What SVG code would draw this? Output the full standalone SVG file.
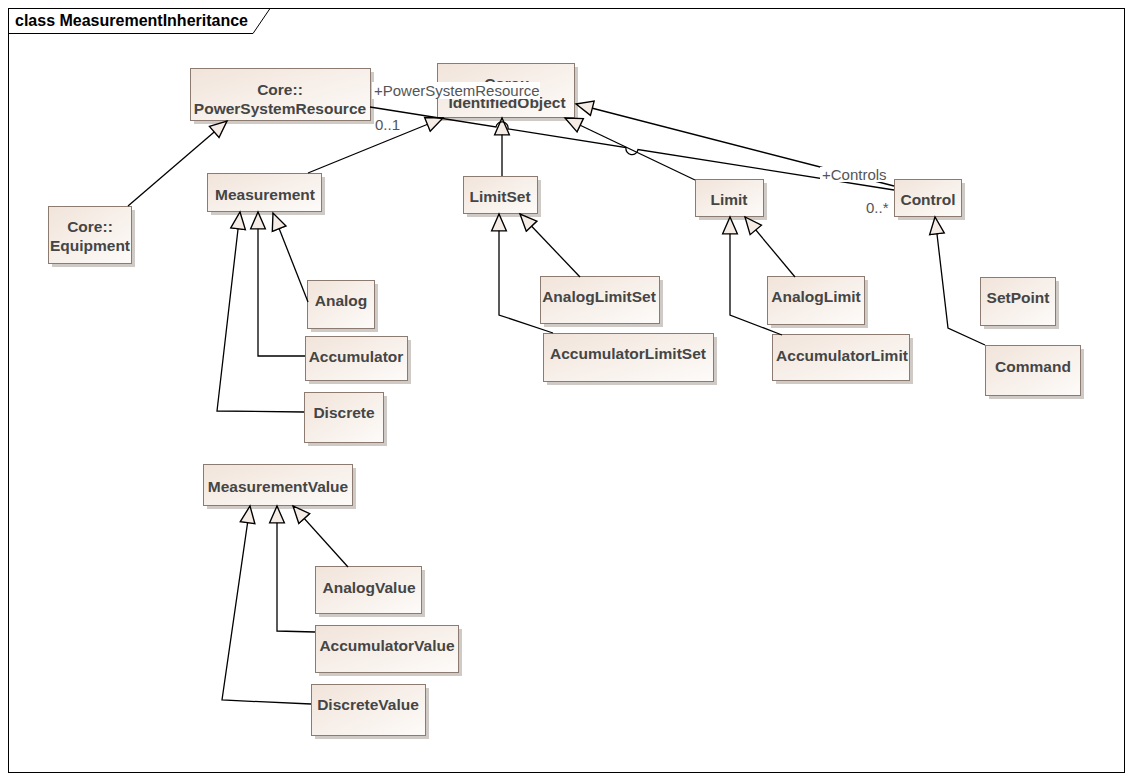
<svg xmlns="http://www.w3.org/2000/svg" width="1133" height="781" viewBox="0 0 1133 781">
<style>
.box{fill:url(#g);stroke:#8c7b70;stroke-width:1}
.sh{fill:#cfcac6}
.t{font-family:"Liberation Sans",Arial,sans-serif;font-weight:bold;font-size:15.5px;fill:#454545;text-anchor:middle}
.lbl{font-family:"Liberation Sans",Arial,sans-serif;font-size:15px;fill:#555}
.c{fill:none;stroke:#000;stroke-width:1.3}
.gen{marker-end:url(#tri)}
</style>
<defs>
<linearGradient id="g" x1="0" y1="0" x2="1" y2="1">
<stop offset="0" stop-color="#f1e4da"/>
<stop offset="1" stop-color="#fdfbf9"/>
</linearGradient>
<marker id="tri" markerUnits="userSpaceOnUse" markerWidth="20" markerHeight="20" viewBox="-1 -9 19 18" refX="16" refY="0" orient="auto">
<path d="M0,-7 L16,0 L0,7 Z" fill="#f5ece6" stroke="#000" stroke-width="1.3"/>
</marker>
</defs>
<rect width="1133" height="781" fill="#fff"/>
<g id="frame">
<rect x="8.5" y="8.5" width="1116" height="764" fill="none" stroke="#000" stroke-width="1"/>
<path d="M8.5,33.5 H253 L270,8.5" fill="none" stroke="#000" stroke-width="1"/>
<text x="15" y="26" style="font-family:'Liberation Sans',Arial,sans-serif;font-weight:bold;font-size:16px;fill:#000">class MeasurementInheritance</text>
</g>
<g id="nodes">
<g id="PowerSystemResource"><rect class="sh" x="194" y="72" width="180" height="52"/><rect class="box" x="190.5" y="68.5" width="180" height="52"/><text class="t" x="280" y="95">Core::</text><text class="t" x="280" y="114">PowerSystemResource</text></g>
<g id="IdentifiedObject"><rect class="sh" x="441" y="67" width="137" height="54"/><rect class="box" x="437.5" y="63.5" width="137" height="54"/><text class="t" x="507" y="89">Core::</text><text class="t" x="507" y="108">IdentifiedObject</text></g>
<g id="Equipment"><rect class="sh" x="52" y="210" width="83" height="57"/><rect class="box" x="48.5" y="206.5" width="83" height="57"/><text class="t" x="90" y="232">Core::</text><text class="t" x="90" y="251">Equipment</text></g>
<g id="Measurement"><rect class="sh" x="211" y="177" width="114" height="38"/><rect class="box" x="207.5" y="173.5" width="114" height="38"/><text class="t" x="265" y="200">Measurement</text></g>
<g id="LimitSet"><rect class="sh" x="467" y="180" width="74" height="37"/><rect class="box" x="463.5" y="176.5" width="74" height="37"/><text class="t" x="500" y="202">LimitSet</text></g>
<g id="Limit"><rect class="sh" x="699" y="183" width="68" height="37"/><rect class="box" x="695.5" y="179.5" width="68" height="37"/><text class="t" x="729" y="205">Limit</text></g>
<g id="Control"><rect class="sh" x="898" y="183" width="67" height="37"/><rect class="box" x="894.5" y="179.5" width="67" height="37"/><text class="t" x="928" y="205">Control</text></g>
<g id="Analog"><rect class="sh" x="311" y="284" width="67" height="48"/><rect class="box" x="307.5" y="280.5" width="67" height="48"/><text class="t" x="341" y="306">Analog</text></g>
<g id="Accumulator"><rect class="sh" x="309" y="340" width="102" height="44"/><rect class="box" x="305.5" y="336.5" width="102" height="44"/><text class="t" x="356" y="362">Accumulator</text></g>
<g id="Discrete"><rect class="sh" x="308" y="396" width="79" height="50"/><rect class="box" x="304.5" y="392.5" width="79" height="50"/><text class="t" x="344" y="418">Discrete</text></g>
<g id="AnalogLimitSet"><rect class="sh" x="544" y="280" width="119" height="47"/><rect class="box" x="540.5" y="276.5" width="119" height="47"/><text class="t" x="599" y="302">AnalogLimitSet</text></g>
<g id="AccumulatorLimitSet"><rect class="sh" x="547" y="337" width="170" height="48"/><rect class="box" x="543.5" y="333.5" width="170" height="48"/><text class="t" x="628" y="359">AccumulatorLimitSet</text></g>
<g id="AnalogLimit"><rect class="sh" x="771" y="280" width="97" height="48"/><rect class="box" x="767.5" y="276.5" width="97" height="48"/><text class="t" x="816" y="302">AnalogLimit</text></g>
<g id="AccumulatorLimit"><rect class="sh" x="776" y="338" width="137" height="46"/><rect class="box" x="772.5" y="334.5" width="137" height="46"/><text class="t" x="842" y="361">AccumulatorLimit</text></g>
<g id="SetPoint"><rect class="sh" x="984" y="281" width="75" height="48"/><rect class="box" x="980.5" y="277.5" width="75" height="48"/><text class="t" x="1018" y="303">SetPoint</text></g>
<g id="Command"><rect class="sh" x="989" y="349" width="95" height="50"/><rect class="box" x="985.5" y="345.5" width="95" height="50"/><text class="t" x="1033" y="372">Command</text></g>
<g id="MeasurementValue"><rect class="sh" x="207" y="468" width="149" height="41"/><rect class="box" x="203.5" y="464.5" width="149" height="41"/><text class="t" x="278" y="492">MeasurementValue</text></g>
<g id="AnalogValue"><rect class="sh" x="319" y="570" width="106" height="47"/><rect class="box" x="315.5" y="566.5" width="106" height="47"/><text class="t" x="369" y="593">AnalogValue</text></g>
<g id="AccumulatorValue"><rect class="sh" x="319" y="629" width="143" height="47"/><rect class="box" x="315.5" y="625.5" width="143" height="47"/><text class="t" x="387" y="651">AccumulatorValue</text></g>
<g id="DiscreteValue"><rect class="sh" x="315" y="688" width="114" height="51"/><rect class="box" x="311.5" y="684.5" width="114" height="51"/><text class="t" x="368" y="710">DiscreteValue</text></g>
</g>
<g id="connectors">
<path class="c gen" d="M128,206 L227,121"/>
<path class="c gen" d="M308,173 L443,118"/>
<path class="c gen" d="M502,176 L502,118"/>
<path class="c gen" d="M695,180 L565,118"/>
<path class="c gen" d="M894,186 L576,104"/>
<path class="c" d="M370,107 L496,127 A6,6 0 0 1 508,128.9 L626,147.6 A6,6 0 0 0 638,149.5 L894,190"/>
<path class="c gen" d="M308,302 L273,213"/>
<path class="c gen" d="M305,356 L258,356 L258,212"/>
<path class="c gen" d="M304,412 L217,411 L240,212"/>
<path class="c gen" d="M580,277 L520,214"/>
<path class="c gen" d="M553,333 L499,315 L499,214"/>
<path class="c gen" d="M795,277 L745,217"/>
<path class="c gen" d="M782,335 L730,315 L730,217"/>
<path class="c gen" d="M985,345 L948,328 L935,217"/>
<path class="c gen" d="M348,567 L293,506"/>
<path class="c gen" d="M315,632 L277,631 L277,506"/>
<path class="c gen" d="M311,704 L222,700 L250,506"/>
</g>
<g id="labels">
<rect x="372" y="82" width="168" height="17" fill="#fff"/>
<text class="lbl" x="374" y="96">+PowerSystemResource</text>
<text class="lbl" x="375" y="130">0..1</text>
<rect x="820" y="167" width="71" height="15" fill="#fff"/>
<text class="lbl" x="822" y="180">+Controls</text>
<text class="lbl" x="866" y="213">0..*</text>
</g>
</svg>
